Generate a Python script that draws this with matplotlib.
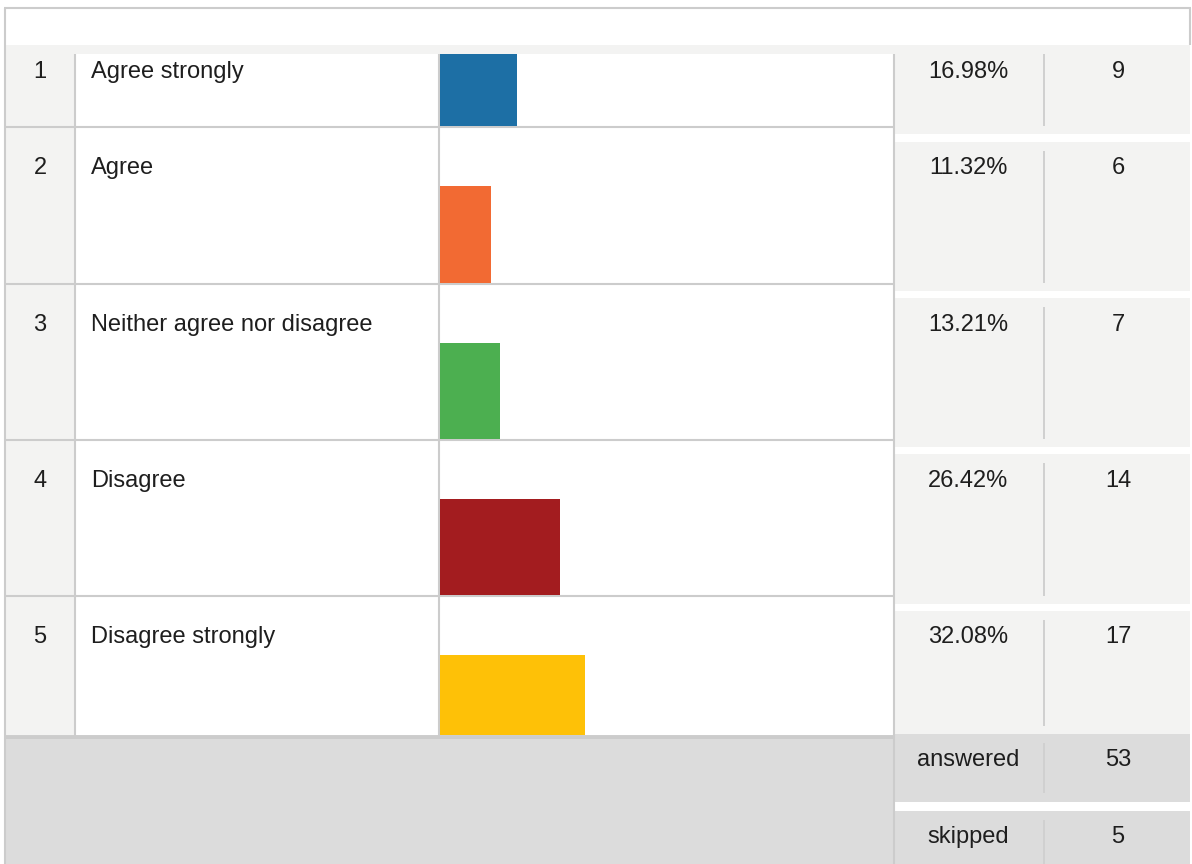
import matplotlib
matplotlib.use('Agg')
from matplotlib import pyplot as plt
from matplotlib.patches import Rectangle

# survey answers
nums = ['1', '2', '3', '4', '5']
labels = ['Agree strongly', 'Agree', 'Neither agree nor disagree', 'Disagree', 'Disagree strongly']
pcts = [16.98, 11.32, 13.21, 26.42, 32.08]
counts = [9, 6, 7, 14, 17]
answered = 53
skipped = 5
colors = ['#1d6fa5', '#f26a33', '#4caf50', '#a31c1f', '#fec107']

W, H = 1192, 864
LINE = '#cccccc'
LIGHT = '#f3f3f2'
DARK = '#dcdcdc'
TXT = '#1e1e1e'
FS = 17
plt.rcParams['font.family'] = ['Liberation Sans', 'DejaVu Sans']

# row layout (pixels)
row_top = [54, 128, 285, 441, 597]
row_line = [127, 284, 440, 596, 736]
base = [77.7, 173.7, 330.7, 486.7, 642.7]
rp_top = [45, 142, 298, 454, 611]
rp_bot = [134, 291, 447, 604, 734]
bar_top = [54, 186, 343, 499, 655]
bar_bot = [126, 283, 439, 595, 735]

fig = plt.figure(figsize=(W/100, H/100), dpi=100)
ax = fig.add_axes([0, 0, 1, 1])
ax.set_xlim(0, W)
ax.set_ylim(H, 0)
ax.axis('off')

def rect(x0, y0, x1, y1, c, z=1):
	ax.add_patch(Rectangle((x0, y0), x1-x0, y1-y0, facecolor=c, edgecolor='none', zorder=z))

def vline(x, y0, y1, lw=1.5, c=LINE):
	ax.plot([x, x], [y0, y1], color=c, lw=lw, solid_capstyle='butt', zorder=3)

def hline(y, x0, x1, lw=1.5, c=LINE):
	ax.plot([x0, x1], [y, y], color=c, lw=lw, solid_capstyle='butt', zorder=3)

# header strip + number column
rect(5, 45, 1190, 54, LIGHT)
rect(5, 54, 75, 736, LIGHT)
# right panel blocks
for t, b in zip(rp_top, rp_bot):
	rect(894, t, 1190, b, LIGHT)
	vline(1043.5, max(t + 9, 54), b - 8, lw=1.4, c='#d0d0d0')
# bottom area
rect(5, 738, 893, H, DARK)
rect(894, 734, 1190, 802, DARK)
rect(894, 811, 1190, H, DARK)
vline(1043.5, 743, 793, lw=1.4, c='#d0d0d0')
vline(1043.5, 820, H, lw=1.4, c='#d0d0d0')

# borders
hline(8, 4, 1190.5)
vline(4.5, 8, H)
vline(1190, 8, 45)
vline(75, 54, 736)
vline(439, 54, 736)
vline(893.5, 54, H)
for y in row_line[:-1]:
	hline(y, 5, 893)
hline(736.5, 5, 893, lw=2.8)

# text
for i in range(5):
	ax.text(40, base[i], nums[i], ha='center', va='baseline', fontsize=FS, color=TXT)
	ax.text(91, base[i], labels[i], ha='left', va='baseline', fontsize=FS, color=TXT)
	ax.text(968, base[i], f'{pcts[i]:.2f}%', ha='center', va='baseline', fontsize=FS, color=TXT)
	ax.text(1118, base[i], str(counts[i]), ha='center', va='baseline', fontsize=FS, color=TXT)
ax.text(968, 765.7, 'answered', ha='center', va='baseline', fontsize=FS, color=TXT)
ax.text(1118, 765.7, str(answered), ha='center', va='baseline', fontsize=FS, color=TXT)
ax.text(968, 842.7, 'skipped', ha='center', va='baseline', fontsize=FS, color=TXT)
ax.text(1118, 842.7, str(skipped), ha='center', va='baseline', fontsize=FS, color=TXT)

# bars, scaled to the answered total
bx = fig.add_axes([440/W, 1-736/H, (893-440)/W, (736-54)/H])
bx.set_xlim(0, answered)
bx.set_ylim(736, 54)
bx.axis('off')
ys = [(t + b)/2 for t, b in zip(bar_top, bar_bot)]
hs = [b - t for t, b in zip(bar_top, bar_bot)]
bx.barh(ys, counts, height=hs, left=0, color=colors, edgecolor='none')

fig.savefig('out.png', dpi=100)
